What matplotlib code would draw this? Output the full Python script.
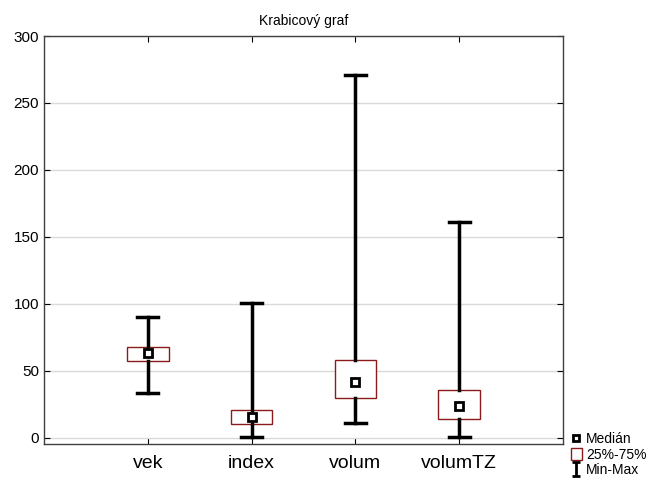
import matplotlib
matplotlib.use("Agg")
import matplotlib.pyplot as plt
from matplotlib.lines import Line2D
from matplotlib.patches import Patch
from matplotlib.path import Path

plt.rcParams['font.family'] = ['Liberation Sans', 'DejaVu Sans']

# Summary statistics per variable
categories = ["vek", "index", "volum", "volumTZ"]
minimum = [33.5, 1, 11.5, 1]
q1 = [57.5, 10.5, 29.5, 14]
median = [63.5, 16, 41.5, 24]
q3 = [68, 21, 58.5, 36]
maximum = [90.5, 101, 271, 161]
y_ticks = [0, 50, 100, 150, 200, 250, 300]

box_red = "#8b1a1a"

fig = plt.figure(figsize=(6.48, 4.8), dpi=100)
ax = fig.add_axes([44 / 648, 1 - 444 / 480, 519 / 648, 408 / 480])

stats = []
for i, name in enumerate(categories):
    stats.append(dict(label=name, whislo=minimum[i], q1=q1[i], med=median[i],
                      q3=q3[i], whishi=maximum[i]))

positions = list(range(1, len(categories) + 1))
ax.bxp(stats, positions=positions, widths=0.4, showfliers=False,
       patch_artist=True, zorder=3,
       boxprops=dict(facecolor="white", edgecolor=box_red, linewidth=1.0),
       whiskerprops=dict(color="black", linewidth=2.5),
       capprops=dict(color="black", linewidth=2.5),
       capwidths=0.2,
       medianprops=dict(linewidth=0))

ax.plot(positions, median, linestyle="none", marker="s", markersize=5.5,
        markerfacecolor="white", markeredgecolor="black", markeredgewidth=2,
        zorder=5)

ax.set_xlim(0, 5)
ax.set_ylim(-4.5, 300)
ax.set_yticks(y_ticks)
ax.set_xticks(positions)
ax.set_xticklabels(categories, fontsize=14)
ax.tick_params(axis="y", labelsize=11, direction="in", length=4,
               left=True, right=True, width=0.8)
ax.tick_params(axis="x", direction="in", length=4, top=True, bottom=True,
               pad=8, width=0.8)
ax.grid(axis="y", color="#dadada", linewidth=1.0, zorder=0)
ax.set_axisbelow(True)
for s in ax.spines.values():
    s.set_color("#404040")
    s.set_linewidth(1.0)

ax.set_title("Krabicový graf", fontsize=10, pad=8)

# I-beam marker for the min-max legend entry
ibeam = Path([(-0.6, 1), (0.6, 1), (0, 1), (0, -1), (-0.6, -1), (0.6, -1)],
             [Path.MOVETO, Path.LINETO, Path.MOVETO, Path.LINETO,
              Path.MOVETO, Path.LINETO])
handles = [
    Line2D([], [], linestyle="none", marker="s", markersize=5,
           markerfacecolor="white", markeredgecolor="black", markeredgewidth=2),
    Patch(facecolor="white", edgecolor=box_red, linewidth=1.0),
    Line2D([], [], linestyle="none", marker=ibeam, markersize=10,
           color="black", markeredgewidth=2),
]
fig.legend(handles, ["Medián", "25%-75%", "Min-Max"], loc="lower left",
           bbox_to_anchor=(568 / 648, 0), frameon=False, fontsize=10,
           handlelength=0.8, handletextpad=0.3, labelspacing=0.1,
           borderpad=0.0, borderaxespad=0.2, handleheight=0.9)

fig.savefig("out.png", dpi=100)
